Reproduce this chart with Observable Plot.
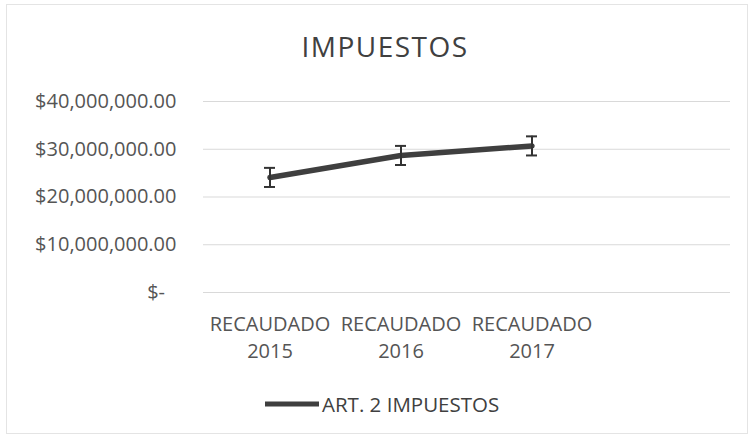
<!DOCTYPE html>
<html>
<head>
<meta charset="utf-8">
<script src="https://cdn.jsdelivr.net/npm/d3@7"></script>
<script src="https://cdn.jsdelivr.net/npm/@observablehq/plot@0.6"></script>
<style>
  body { margin: 0; background: #fff; }
  #wrap { position: relative; width: 753px; height: 437px; overflow: hidden; font-family: "Open Sans", sans-serif; }
  #frame { position: absolute; left: 6px; top: 4px; width: 740px; height: 428px; border: 1px solid #e4e4e4; }
  #title { position: absolute; left: 0; top: 27px; width: 770px; text-align: center; font-size: 28px; color: #404040; letter-spacing: 1.5px; }
  #chart { position: absolute; left: 0; top: 80px; }
  #legend { position: absolute; left: 265px; top: 390px; display: flex; align-items: center; font-size: 20.5px; color: #404040; }
</style>
</head>
<body>
<div id="wrap">
  <div id="frame"></div>
  <div id="title">IMPUESTOS</div>
  <div id="chart"></div>
  <div id="legend"><svg width="57" height="10"><line x1="0" x2="54" y1="5" y2="5" stroke="#3f3f3f" stroke-width="5"/></svg><span id="legtext"></span></div>
</div>
<script>
const categories = ["RECAUDADO\n2015", "RECAUDADO\n2016", "RECAUDADO\n2017"];
const values = [24100000, 28700000, 30700000];
const errors = [2000000, 2000000, 2000000];
const yTicks = [0, 10000000, 20000000, 30000000, 40000000];
const seriesName = "ART. 2 IMPUESTOS";

const data = categories.map((c, i) => ({cat: c, v: values[i], lo: values[i] - errors[i], hi: values[i] + errors[i]}));
const fmt = d => d === 0 ? "$-\u2007" : "$" + d3.format(",.2f")(d);

const plot = Plot.plot({
  width: 753,
  height: 300,
  marginLeft: 203,
  marginRight: 23,
  marginTop: 21,
  marginBottom: 88,
  style: {fontFamily: "Open Sans, sans-serif", fontSize: "20px", color: "#595959", background: "transparent"},
  x: {type: "band", domain: categories, padding: 0, insetRight: 132, label: null},
  y: {domain: [0, 40000000], label: null},
  marks: [
    Plot.ruleY(yTicks, {stroke: "#d9d9d9", strokeWidth: 1.2}),
    Plot.axisY({ticks: yTicks, tickFormat: fmt, tickSize: 0, tickPadding: 27, label: null, fill: "#555", fontSize: 20}),
    Plot.axisX({tickSize: 0, tickPadding: 20, label: null, lineHeight: 1.33, fill: "#555", fontSize: 20}),
    Plot.line(data, {x: "cat", y: "v", stroke: "#3f3f3f", strokeWidth: 5.5, strokeLinejoin: "round"}),
    Plot.ruleX(data, {x: "cat", y1: "lo", y2: "hi", stroke: "#333", strokeWidth: 2}),
    Plot.tickY(data, {x: "cat", y: "lo", stroke: "#333", strokeWidth: 2, insetLeft: 60, insetRight: 60}),
    Plot.tickY(data, {x: "cat", y: "hi", stroke: "#333", strokeWidth: 2, insetLeft: 60, insetRight: 60})
  ]
});
document.getElementById("chart").appendChild(plot);
document.getElementById("legtext").textContent = seriesName;
</script>
</body>
</html>
